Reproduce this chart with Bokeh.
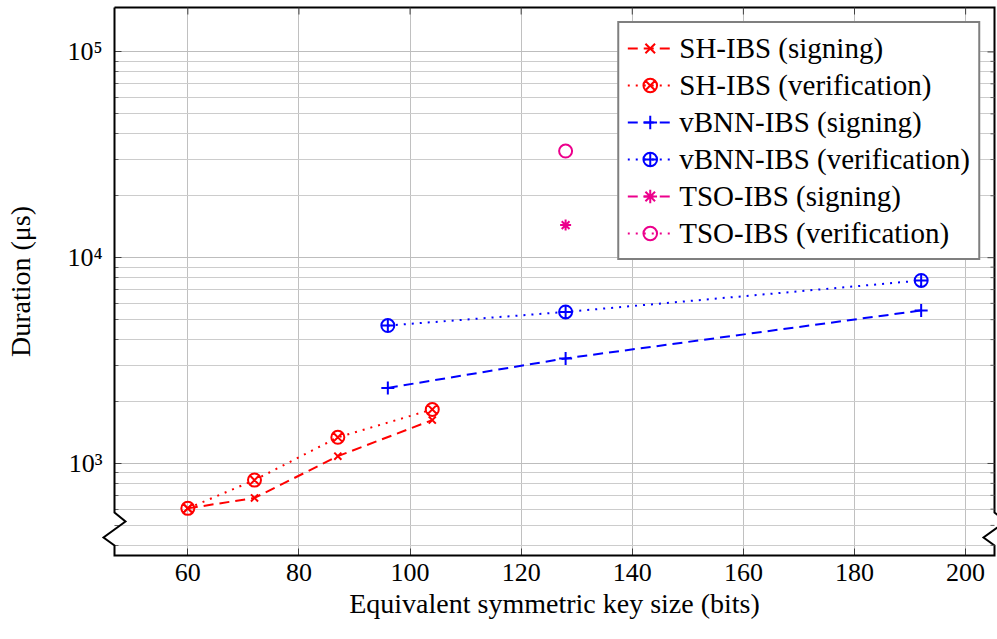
import math
from bokeh.plotting import figure
from bokeh.models import FixedTicker, Range1d, Legend, LegendItem
from bokeh.embed import file_html
from bokeh.resources import INLINE

# ---- data ----
key_sh = [60, 72, 87, 104]
sh_sign = [605, 680, 1085, 1625]
sh_ver = [605, 830, 1340, 1830]
key_vbnn = [96, 128, 192]
vbnn_sign = [2330, 3240, 5540]
vbnn_ver = [4680, 5450, 7750]
key_tso = [128]
tso_sign = [14400]
tso_ver = [33000]

x_ticks = [60, 80, 100, 120, 140, 160, 180, 200]
y_ticks = [1000, 10000, 100000]
y_tick_labels = {1000: "10³", 10000: "10⁴", 100000: "10⁵"}
y_minor = [m * 10 ** k for k in (2, 3, 4, 5) for m in range(2, 10)]

RED = "#ff0000"
BLUE = "#0000ff"
MAG = "#ec008c"
FONT = "Liberation Serif"

X0, X1 = 46.8, 205.2
LY0, LY1 = 2.5527, 5.216
W, H = 997, 630
ML, MR, MT = 114, 3, 7
MB = H - 555
FW, FH = W - ML - MR, H - MT - MB

p = figure(width=W, height=H, output_backend="svg", toolbar_location=None,
           y_axis_type="log",
           x_range=Range1d(X0, X1), y_range=Range1d(10 ** LY0, 10 ** LY1),
           min_border_left=ML, min_border_right=MR, min_border_top=MT, min_border_bottom=MB)
p.outline_line_color = None
p.background_fill_color = "white"
p.border_fill_color = "white"

# axes
p.xaxis.ticker = FixedTicker(ticks=x_ticks)
p.yaxis.ticker = FixedTicker(ticks=y_ticks, minor_ticks=y_minor)
p.yaxis.major_label_overrides = y_tick_labels
for ax in (p.xaxis[0], p.yaxis[0]):
    ax.axis_line_color = None
    ax.major_tick_in = 7
    ax.major_tick_out = 0
    ax.minor_tick_in = 4
    ax.minor_tick_out = 0
    ax.major_tick_line_color = "#404040"
    ax.minor_tick_line_color = "#606060"
    ax.major_label_text_font = FONT
    ax.major_label_text_font_size = "26px"
    ax.major_label_text_color = "black"
    ax.axis_label_text_font = FONT
    ax.axis_label_text_font_size = "28px"
    ax.axis_label_text_font_style = "normal"
    ax.axis_label_text_color = "black"
p.xaxis.minor_tick_line_color = None
p.xaxis.axis_label = "Equivalent symmetric key size (bits)"
p.yaxis.axis_label = "Duration (μs)"
p.xaxis.major_label_standoff = 8
p.yaxis.major_label_standoff = 12
p.xaxis.axis_label_standoff = 4
p.yaxis.axis_label_standoff = 28

p.xgrid.grid_line_color = "#c0c0c0"
p.ygrid.grid_line_color = "#bdbdbd"
p.ygrid.minor_grid_line_color = "#cccccc"

# ---- series ----
r1l = p.line(key_sh, sh_sign, color=RED, line_width=2, line_dash="10 6")
r1s = p.scatter(key_sh, sh_sign, marker="x", size=10, line_color=RED, line_width=2)
r2l = p.line(key_sh, sh_ver, color=RED, line_width=2, line_dash="2 6")
r2s = p.scatter(key_sh, sh_ver, marker="circle_x", size=13, line_color=RED, fill_color=None, line_width=2)
r3l = p.line(key_vbnn, vbnn_sign, color=BLUE, line_width=2, line_dash="10 6")
r3s = p.scatter(key_vbnn, vbnn_sign, marker="cross", size=13, line_color=BLUE, line_width=2)
r4l = p.line(key_vbnn, vbnn_ver, color=BLUE, line_width=2, line_dash="2 6")
r4s = p.scatter(key_vbnn, vbnn_ver, marker="circle_cross", size=13, line_color=BLUE, fill_color=None, line_width=2)
r5l = p.line(key_tso, tso_sign, color=MAG, line_width=2, line_dash="10 6")
r5s = p.scatter(key_tso, tso_sign, marker="asterisk", size=11, line_color=MAG, line_width=2)
r6l = p.line(key_tso, tso_ver, color=MAG, line_width=2, line_dash="2 6")
r6s = p.scatter(key_tso, tso_ver, marker="circle", size=13, line_color=MAG, fill_color=None, line_width=2)

legend = Legend(items=[
    LegendItem(label="SH-IBS (signing)", renderers=[r1l, r1s]),
    LegendItem(label="SH-IBS (verification)", renderers=[r2l, r2s]),
    LegendItem(label="vBNN-IBS (signing)", renderers=[r3l, r3s]),
    LegendItem(label="vBNN-IBS (verification)", renderers=[r4l, r4s]),
    LegendItem(label="TSO-IBS (signing)", renderers=[r5l, r5s]),
    LegendItem(label="TSO-IBS (verification)", renderers=[r6l, r6s]),
], location="top_right")
legend.margin = 14
legend.padding = 8
legend.spacing = 3
legend.glyph_width = 45
legend.glyph_height = 34
legend.label_height = 34
legend.label_standoff = 7
legend.label_text_font = FONT
legend.label_text_font_size = "29px"
legend.label_text_color = "black"
legend.border_line_color = "black"
legend.border_line_width = 2
legend.background_fill_color = "white"
legend.background_fill_alpha = 1.0
p.add_layout(legend)

# ---- frame with axis breaks (decoration, pixel offsets converted to data) ----
dxu = (X1 - X0) / FW
dyl = (LY1 - LY0) / FH
def bx(base, dpx):
    return base + dpx * dxu
def by(dpx):
    return 10 ** (LY0 + dpx * dyl)

brk = [(0, 43), (11, 34), (-11, 18), (0, 10)]
fx = [X0] + [bx(X0, d) for d, _ in brk] + [X0, X1]
fy = [10 ** LY1] + [by(h) for _, h in brk] + [10 ** LY0, 10 ** LY0]
for d, h in reversed(brk):
    fx.append(bx(X1, d))
    fy.append(by(h))
fx += [X1, X0]
fy += [10 ** LY1, 10 ** LY1]
p.line(fx, fy, color="black", line_width=2, line_join="miter", level="overlay")

# mirrored ticks on top and right
p.segment(x0=x_ticks, y0=[10 ** LY1] * len(x_ticks), x1=x_ticks,
          y1=[by(FH - 7)] * len(x_ticks), color="#404040", line_width=1, level="overlay")
p.segment(x0=[X1] * len(y_ticks), y0=y_ticks, x1=[bx(X1, -7)] * len(y_ticks), y1=y_ticks,
          color="#404040", line_width=1, level="overlay")
ym = [v for v in y_minor if 10 ** LY0 < v < 10 ** LY1]
p.segment(x0=[X1] * len(ym), y0=ym, x1=[bx(X1, -4)] * len(ym), y1=ym,
          color="#606060", line_width=1, level="overlay")

open("out.html", "w").write(file_html(p, INLINE))
